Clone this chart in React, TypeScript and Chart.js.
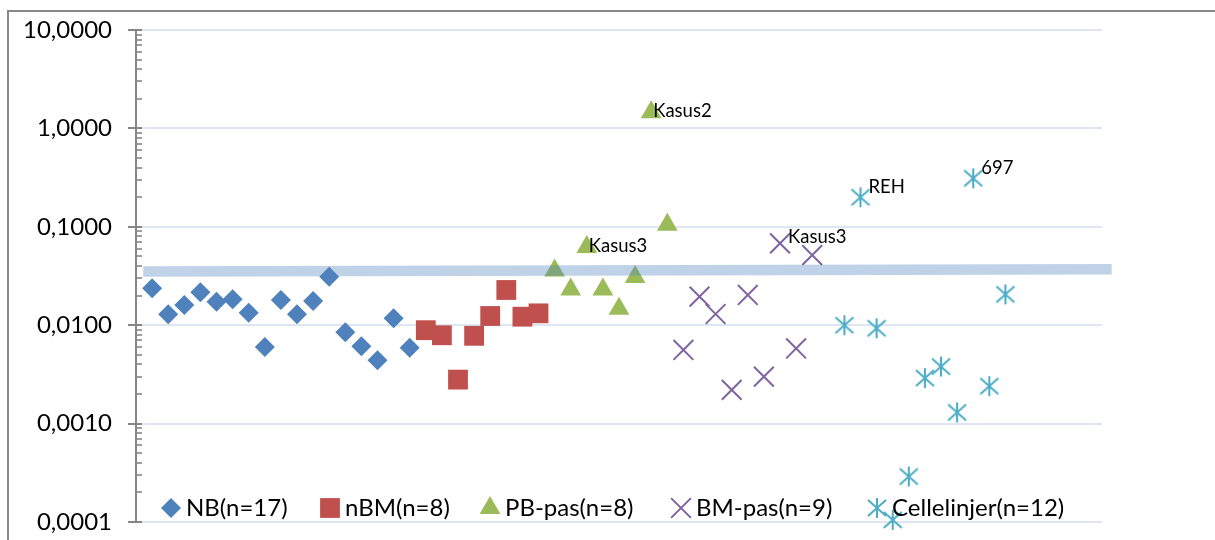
import React, { useEffect, useRef } from 'react';
import { Chart, registerables } from 'chart.js';
import { drawPoint } from 'chart.js/helpers';

Chart.register(...registerables);

// ---- data ----
const seriesNames = ['NB(n=17)', 'nBM(n=8)', 'PB-pas(n=8)', 'BM-pas(n=9)', 'Cellelinjer(n=12)'];
const nbValues = [0.0237, 0.0129, 0.016, 0.0216, 0.0173, 0.0183, 0.0134, 0.006, 0.018, 0.0129, 0.0176, 0.0311, 0.0085, 0.0061, 0.0044, 0.0118, 0.0059];
const nbmValues = [0.0089, 0.0079, 0.0028, 0.0078, 0.0124, 0.0228, 0.0122, 0.0132];
const pbValues = [0.036, 0.023, 0.0624, 0.023, 0.0147, 0.0309, 1.46, 0.105];
const bmValues = [0.0056, 0.0195, 0.013, 0.0022, 0.0203, 0.003, 0.0679, 0.0058, 0.0516];
const cellValues = [null, 0.01, 0.1995, 0.0093, 0.000105, 0.00029, 0.0029, 0.0038, 0.0013, 0.311, 0.0024, 0.0206];
const pbLabels = ['', '', 'Kasus3', '', '', '', 'Kasus2', ''];
const bmLabels = ['', '', '', '', '', '', 'Kasus3', '', ''];
const cellLabels = ['', '', 'REH', '', '', '', '', '', '', '697', '', ''];
const yTickValues = [0.0001, 0.001, 0.01, 0.1, 1, 10];
const thresholdValues = [0.0351, 0.037];
const thresholdSpan = [-0.55, 59.6];

const FONT = 'Lato';

function makeStar(): HTMLCanvasElement {
  const c = document.createElement('canvas');
  c.width = 22;
  c.height = 22;
  const g = c.getContext('2d') as CanvasRenderingContext2D;
  g.strokeStyle = '#4BACC6';
  g.lineWidth = 2;
  g.beginPath();
  g.moveTo(11, 1);
  g.lineTo(11, 21);
  g.moveTo(2, 3);
  g.lineTo(20, 19);
  g.moveTo(20, 3);
  g.lineTo(2, 19);
  g.stroke();
  return c;
}

export default function App() {
  const ref = useRef<HTMLCanvasElement | null>(null);

  useEffect(() => {
    if (!ref.current) return;
    const groups = [nbValues, nbmValues, pbValues, bmValues, cellValues];
    let idx = 0;
    const pts = groups.map((vals) => vals.map((v) => ({ x: idx++, y: v })));
    const star = makeStar();

    const common = { showLine: false, clip: false as any, order: 1 };
    const datasets: any[] = [
      {
        type: 'line',
        label: 'threshold',
        data: thresholdSpan.map((x, i) => ({ x, y: thresholdValues[i] })),
        borderColor: 'rgba(79,129,189,0.36)',
        borderWidth: 10.5,
        pointRadius: 0,
        clip: false,
        order: 0,
        borderCapStyle: 'butt',
      },
      { ...common, label: seriesNames[0], data: pts[0], pointStyle: 'rectRot', pointRadius: 10, backgroundColor: '#4F81BD', borderColor: '#4F81BD', borderWidth: 0 },
      { ...common, label: seriesNames[1], data: pts[1], pointStyle: 'rect', pointRadius: 14, backgroundColor: '#C0504D', borderColor: '#C0504D', borderWidth: 0 },
      { ...common, label: seriesNames[2], data: pts[2], pointStyle: 'triangle', pointRadius: 12, backgroundColor: '#9BBB59', borderColor: '#9BBB59', borderWidth: 0 },
      { ...common, label: seriesNames[3], data: pts[3], pointStyle: 'crossRot', pointRadius: 14, backgroundColor: '#8064A2', borderColor: '#8064A2', borderWidth: 2 },
      { ...common, label: seriesNames[4], data: pts[4], pointStyle: star, pointRadius: 10, backgroundColor: '#4BACC6', borderColor: '#4BACC6', borderWidth: 0 },
    ];

    const labelSets = [
      { ds: 3, labels: pbLabels, dx: 2, dy: -1 },
      { ds: 4, labels: bmLabels, dx: 8, dy: -6 },
      { ds: 5, labels: cellLabels, dx: 8, dy: -10 },
    ];
    const legendTextX = [186, 345, 505, 696, 892];

    const framePlugin = {
      id: 'frame',
      beforeDraw(chart: any) {
        const ctx = chart.ctx;
        ctx.save();
        ctx.fillStyle = '#ffffff';
        ctx.fillRect(0, 0, chart.width, chart.height);
        ctx.strokeStyle = '#888888';
        ctx.lineWidth = 2;
        ctx.strokeRect(8, 11, chart.width + 20, chart.height + 20);
        ctx.restore();
      },
    };

    const axisTicks = {
      id: 'axisTicks',
      afterDraw(chart: any) {
        const ctx = chart.ctx;
        const ys = chart.scales.y;
        const left = chart.chartArea.left;
        ctx.save();
        ctx.strokeStyle = '#868686';
        for (let e = -4; e <= 1; e++) {
          for (let m = 1; m <= 9; m++) {
            const v = m * Math.pow(10, e);
            if (v > 10.0001) break;
            const py = Math.round(ys.getPixelForValue(v));
            ctx.lineWidth = m === 1 ? 2 : 1.6;
            ctx.beginPath();
            ctx.moveTo(m === 1 ? left - 8 : left, py);
            ctx.lineTo(left + 6, py);
            ctx.stroke();
          }
        }
        ctx.restore();
      },
    };

    const pointLabels = {
      id: 'pointLabels',
      afterDatasetsDraw(chart: any) {
        const ctx = chart.ctx;
        ctx.save();
        ctx.font = `18.5px ${FONT}`;
        ctx.fillStyle = '#000000';
        ctx.textAlign = 'left';
        ctx.textBaseline = 'middle';
        labelSets.forEach((set) => {
          const meta = chart.getDatasetMeta(set.ds);
          set.labels.forEach((t, j) => {
            if (!t) return;
            const el = meta.data[j];
            if (!el) return;
            ctx.fillText(t, el.x + set.dx, el.y + set.dy);
          });
        });
        ctx.restore();
      },
    };

    const legendPlugin = {
      id: 'insideLegend',
      afterDraw(chart: any) {
        const ctx = chart.ctx;
        const y = 508;
        ctx.save();
        for (let i = 0; i < seriesNames.length; i++) {
          const ds = chart.data.datasets[i + 1];
          const tx = legendTextX[i];
          ctx.fillStyle = ds.backgroundColor;
          ctx.strokeStyle = ds.borderColor;
          ctx.lineWidth = ds.borderWidth;
          drawPoint(ctx, { pointStyle: ds.pointStyle, rotation: 0, radius: ds.pointRadius, borderWidth: ds.borderWidth } as any, tx - 15, y);
          ctx.font = `24px ${FONT}`;
          ctx.fillStyle = '#000000';
          ctx.textAlign = 'left';
          ctx.textBaseline = 'middle';
          ctx.fillText(seriesNames[i], tx, y);
        }
        ctx.restore();
      },
    };

    const chart = new Chart(ref.current, {
      type: 'scatter',
      data: { datasets },
      options: {
        animation: false,
        responsive: false,
        devicePixelRatio: 1,
        layout: { padding: { top: 30, bottom: 18, right: 113, left: 0 } },
        plugins: { legend: { display: false }, tooltip: { enabled: false } },
        scales: {
          x: { type: 'linear', min: -1, max: 59, display: false },
          y: {
            type: 'logarithmic',
            min: 0.0001,
            max: 10,
            afterBuildTicks: (s: any) => {
              s.ticks = yTickValues.map((v) => ({ value: v }));
            },
            afterFit: (s: any) => {
              s.width = 136;
            },
            ticks: {
              autoSkip: false,
              padding: 0,
              color: '#000000',
              font: { family: FONT, size: 24 },
              callback: (v: any) => Number(v).toFixed(4).replace('.', ','),
            },
            grid: { color: '#DDE6F2', lineWidth: 2, tickLength: 24, tickColor: 'rgba(0,0,0,0)', drawTicks: true },
            border: { display: true, color: '#868686', width: 2 },
          },
        },
      } as any,
      plugins: [framePlugin, axisTicks, pointLabels, legendPlugin],
    });
    return () => chart.destroy();
  }, []);

  return (
    <div style={{ position: 'absolute', left: 0, top: 0, width: 1215, height: 540, background: '#fff' }}>
      <canvas ref={ref} width={1215} height={540} style={{ display: 'block' }} />
    </div>
  );
}
